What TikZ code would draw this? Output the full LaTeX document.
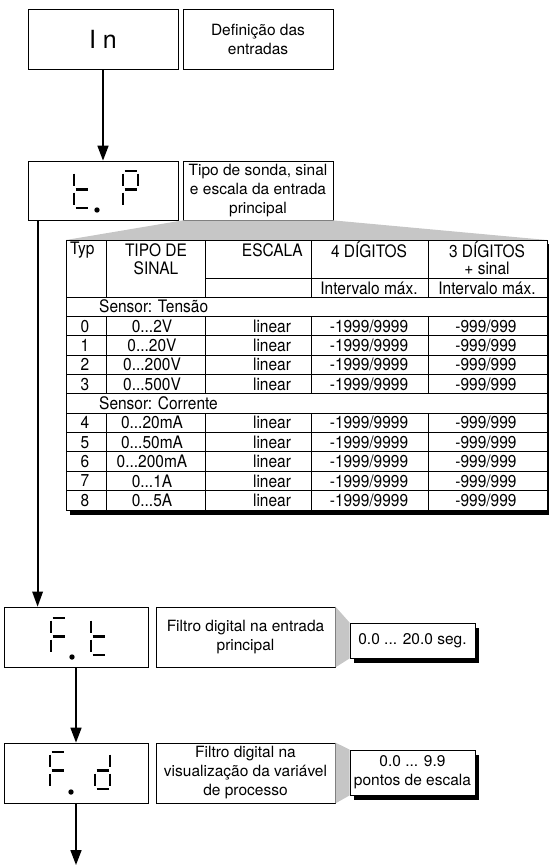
\documentclass[tikz,border=0pt]{standalone}
\usepackage{fontspec}
\setmainfont{TeX Gyre Heros}
\newfontfamily\tabfont[FakeStretch=0.9]{TeX Gyre Heros}
\usetikzlibrary{arrows.meta,calc,shadows}
\newcommand\tdots{...}
\begin{document}
\begin{tikzpicture}[x=1pt,y=-1pt,
  txt/.style={font=\fontsize{15.5}{19}\selectfont},
  tfont/.style={font=\tabfont\fontsize{17.2}{19}\selectfont, inner sep=0pt},
  frame/.style={draw, line width=0.8pt, inner sep=0pt, align=center, fill=white},
  descbox/.style={frame, txt},
  valbox/.style={frame, txt, general shadow={fill=black, shadow xshift=4pt, shadow yshift=-5pt}},
  arr/.style={line width=1.7pt, -{Triangle[length=15pt,width=11pt]}},
  longline/.style={line width=1.9pt},
  callout/.style={fill=gray!45},
  seg/.style={line width=2.6pt},
  seg a/.pic={\draw[seg] (1.5,0) -- (13.5,0);},
  seg b/.pic={\draw[seg] (15,2.5) -- (15,15);},
  seg c/.pic={\draw[seg] (15,21.5) -- (15,34);},
  seg d/.pic={\draw[seg] (1.5,37) -- (13.5,37);},
  seg e/.pic={\draw[seg] (0,21.5) -- (0,34);},
  seg f/.pic={\draw[seg] (0,2.5) -- (0,15);},
  seg g/.pic={\draw[seg] (1.5,18.5) -- (13.5,18.5);},
  ]
\useasboundingbox (0,0) rectangle (549,865);

% ---------- boxes ----------
\node[frame, minimum width=150pt, minimum height=60pt, font=\fontsize{25}{30}\selectfont] (inbox) at (103,39) {I n};
\node[descbox, minimum width=150pt, minimum height=60pt] (indesc) at (258,39) {Definição das\\entradas};
\node[frame, minimum width=150pt, minimum height=59pt] (tpbox) at (103,190.5) {};
\node[descbox, minimum width=150pt, minimum height=59pt] (tpdesc) at (258,190.5) {Tipo de sonda, sinal\\e escala da entrada\\principal};
\node[frame, minimum width=144pt, minimum height=60pt] (ftbox) at (76,637) {};
\node[frame, minimum width=144pt, minimum height=60pt] (fdbox) at (76,773) {};

% ---------- connectors ----------
\draw[arr] (inbox) -- (tpbox);
\coordinate (tpout) at ([xshift=10pt]tpbox.south west);
\coordinate (ftin) at (tpout |- ftbox.north);
\draw[longline] (tpout) -- ([yshift=12pt]ftin);
\fill (ftin) -- ([xshift=-5.5pt,yshift=15pt]ftin) -- ([xshift=5.5pt,yshift=15pt]ftin) -- cycle;
\draw[arr] (ftbox) -- (fdbox);
\coordinate (fdend) at (76,865);
\draw[arr] (fdbox) -- (fdend);

% ---------- displays ----------
\foreach \s in {f,g,e,d} \pic at (74,171) {seg \s};
\foreach \s in {a,f,b,g,e} \pic at (123,171) {seg \s};
\fill (97,210) circle (2.7pt);
\foreach \s in {a,f,g,e} \pic at (51,618) {seg \s};
\foreach \s in {f,g,e,d} \pic at (91,618) {seg \s};
\fill (72,657) circle (2.7pt);
\foreach \s in {a,f,g,e} \pic at (50,752) {seg \s};
\foreach \s in {b,g,e,c,d} \pic at (95,752) {seg \s};
\fill (71,792) circle (2.7pt);

% ---------- table ----------
\coordinate (tabNW) at (66,240);
\coordinate (tabNE) at (547,240);
\coordinate (tabSE) at (547,510);
\fill[callout] (tabNW) -- (tpdesc.south west) -- (tpdesc.south east) -- (tabNE) -- cycle;
\fill (70,244) rectangle (549,515);
\draw[line width=0.8pt, fill=white] (tabNW) rectangle (tabSE);
\draw[line width=0.8pt] (205,278) -- (547,278);
\foreach \i in {0,1,2,3,4,5,6,7,8,9,10} {
  \pgfmathsetmacro\yl{297+19.36*\i}
  \draw[line width=0.8pt] (66,\yl) -- (547,\yl);
}
\foreach \xx in {106,205,311,428} {
  \draw[line width=0.8pt] (\xx,240) -- (\xx,297);
  \draw[line width=0.8pt] (\xx,{297+19.36}) -- (\xx,{297+19.36*5});
  \draw[line width=0.8pt] (\xx,{297+19.36*6}) -- (\xx,510);
}
\node[tfont, anchor=west] (hTyp) at (70,250) {Typ};
\node[tfont] (hTipo) at (156,250) {TIPO DE};
\node[tfont] (hSinal) at (156,268) {SINAL};
\node[tfont, anchor=east] (hEsc) at (303,250) {ESCALA};
\node[tfont] (hD4) at (369,250) {4 DÍGITOS};
\node[tfont] (hD3) at (487,250) {3 DÍGITOS};
\node[tfont] (hD3b) at (487,268) {+ sinal};
\node[tfont] (hI4) at (369,288) {Intervalo máx.};
\node[tfont] (hI3) at (487,288) {Intervalo máx.};
\node[tfont, anchor=west] (sT) at (99,{297+19.36*0.5}) {Sensor: Tensão};
\node[tfont, anchor=west] (sC) at (99,{297+19.36*5.5}) {Sensor: Corrente};
\foreach \n/\sig/\r in {0/2V/1, 1/20V/2, 2/200V/3, 3/500V/4, 4/20mA/6, 5/50mA/7, 6/200mA/8, 7/1A/9, 8/5A/10} {
  \pgfmathsetmacro\yc{297+19.36*(\r+0.5)}
  \node[tfont] (typ\n) at (85,\yc) {\n};
  \node[tfont] (sig\n) at (152,\yc) {0\tdots\sig};
  \node[tfont] (esc\n) at (272,\yc) {linear};
  \node[tfont] (dq\n) at (369,\yc) {-1999/9999};
  \node[tfont] (dt\n) at (486,\yc) {-999/999};
}

% ---------- F.t callout ----------
\node[descbox, minimum width=179pt, minimum height=60pt] (ftdesc) at (245.5,637) {Filtro digital na entrada\\principal};
\node[valbox, minimum width=125pt, minimum height=35pt] (ftval) at (412.5,640.5) {0.0 ... 20.0 seg.};
\fill[callout] (ftdesc.north east) -- (ftval.north west) -- (ftval.south west) -- (ftdesc.south east) -- cycle;

% ---------- F.d callout ----------
\node[descbox, minimum width=179pt, minimum height=60pt] (fddesc) at (245.5,773) {Filtro digital na\\visualização da variável\\de processo};
\node[valbox, minimum width=125pt, minimum height=45pt] (fdval) at (412.5,772.5) {0.0 ... 9.9\\pontos de escala};
\fill[callout] (fddesc.north east) -- (fdval.north west) -- (fdval.south west) -- (fddesc.south east) -- cycle;
\end{tikzpicture}
\end{document}
